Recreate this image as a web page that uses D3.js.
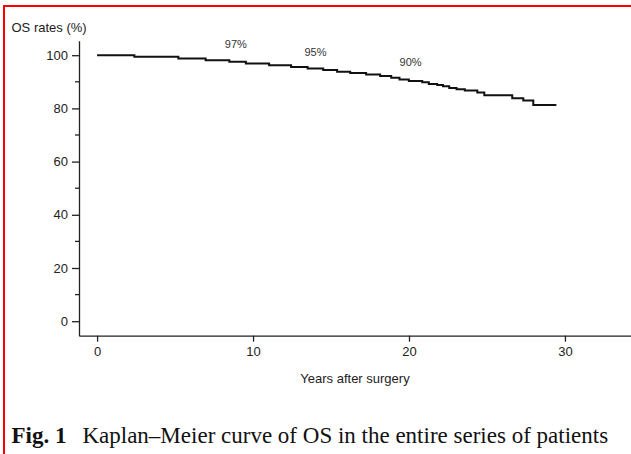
<!DOCTYPE html>
<html>
<head>
<meta charset="utf-8">
<script src="https://cdn.jsdelivr.net/npm/d3@7"></script>
<style>
  html, body { margin: 0; padding: 0; background: #fff; }
  svg { display: block; }
  .axis path, .axis line { stroke: #222; stroke-width: 1.3px; }
  .axis text { font-family: "Liberation Sans", Arial, sans-serif; font-size: 13px; fill: #222; }
</style>
</head>
<body>
<svg id="chart"></svg>
<script>
// step times (years) and survival (%) after each step
var stepYears = [0, 2.39, 5.21, 6.96, 8.48, 9.54, 11.03, 12.44, 13.5, 14.5, 15.39, 16.23, 17.25, 18.15, 18.86, 19.39, 19.99,
                 20.85, 21.27, 21.81, 22.18, 22.58, 23.05, 23.58, 24.38, 24.83, 26.62, 27.33, 27.97];
var survival  = [100, 99.4, 98.8, 98.1, 97.5, 96.9, 96.2, 95.6, 95.0, 94.4, 93.8, 93.3, 92.7, 92.2, 91.5, 90.9, 90.3,
                 89.8, 89.2, 88.8, 88.3, 87.7, 87.2, 86.7, 86.0, 84.9, 83.8, 83.0, 81.3];
var lastFollowUp = 29.45;

var yTicks = [0, 20, 40, 60, 80, 100];
var yMinorTicks = [10, 30, 50, 70, 90];
var xTicks = [0, 10, 20, 30];

var rateLabels = ['97%', '95%', '90%'];
var rateLabelYears = [8.9, 14.0, 20.1];
var rateLabelValues = [102.7, 99.7, 95.9];

var W = 631, H = 454;
var svg = d3.select('#chart').attr('width', W).attr('height', H);

// red frame (right and bottom fall outside the crop)
svg.append('rect').attr('x', 4).attr('y', 6).attr('width', W + 10).attr('height', H + 10)
    .attr('fill', 'none').attr('stroke', '#ff0000').attr('stroke-width', 2);

var xscale = d3.scaleLinear().domain([-1.16, 34.3]).range([79, 632]);
var yscale = d3.scaleLinear().domain([-5.45, 105.45]).range([335.7, 40.7]);

var gy = svg.append('g').attr('class', 'axis').attr('transform', 'translate(79,0)')
    .call(d3.axisLeft(yscale).tickValues(yTicks).tickSize(7).tickSizeOuter(0).tickPadding(4));
gy.append('g').selectAll('line').data(yMinorTicks).enter().append('line')
    .attr('x1', -4).attr('x2', 0)
    .attr('y1', function(d) { return yscale(d); }).attr('y2', function(d) { return yscale(d); });

var gx = svg.append('g').attr('class', 'axis').attr('transform', 'translate(0,335.7)')
    .call(d3.axisBottom(xscale).tickValues(xTicks).tickSize(6).tickSizeOuter(0).tickPadding(5));

svg.append('text').attr('x', 11.5).attr('y', 32)
    .style('font-family', '"Liberation Sans", Arial, sans-serif').style('font-size', '13px').style('fill', '#222')
    .text('OS rates (%)');

svg.append('text').attr('x', 355).attr('y', 383).attr('text-anchor', 'middle')
    .style('font-family', '"Liberation Sans", Arial, sans-serif').style('font-size', '13px').style('fill', '#222')
    .text('Years after surgery');

// Kaplan-Meier step curve
var kmData = stepYears.map(function(t, i) { return [t, survival[i]]; });
kmData.push([lastFollowUp, survival[survival.length - 1]]);
var line = d3.line().curve(d3.curveStepAfter)
    .x(function(d) { return xscale(d[0]); })
    .y(function(d) { return yscale(d[1]); });
svg.append('path').attr('d', line(kmData))
    .attr('fill', 'none').attr('stroke', '#111').attr('stroke-width', 2);

svg.selectAll('.rate').data(rateLabels).enter().append('text').attr('class', 'rate')
    .attr('x', function(d, i) { return xscale(rateLabelYears[i]); })
    .attr('y', function(d, i) { return yscale(rateLabelValues[i]); })
    .attr('text-anchor', 'middle')
    .style('font-family', '"Liberation Sans", Arial, sans-serif').style('font-size', '11px').style('fill', '#333')
    .text(function(d) { return d; });

// figure caption
var cap = svg.append('text').attr('x', 11.5).attr('y', 443)
    .style('font-family', '"Liberation Serif", "Times New Roman", serif').style('font-size', '23px').style('fill', '#111');
cap.append('tspan').style('font-weight', 'bold').text('Fig. 1');
cap.append('tspan').attr('dx', 16).text('Kaplan\u2013Meier curve of OS in the entire series of patients');
</script>
</body>
</html>
